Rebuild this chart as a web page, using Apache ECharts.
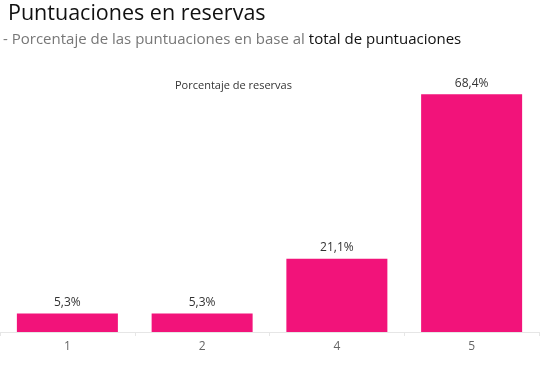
<!DOCTYPE html>
<html><head><meta charset="utf-8">
<script src="https://cdn.jsdelivr.net/npm/echarts@6/dist/echarts.min.js"></script>
<style>html,body{margin:0;padding:0;background:#fff}#c{width:543px;height:365px}</style>
</head><body><div id="c"></div>
<script>
const categories = ['1', '2', '4', '5'];
const values = [5.3, 5.3, 21.1, 68.4];
const titleText = 'Puntuaciones en reservas';
const subtitleText = '- Porcentaje de las puntuaciones en base al ';
const subtitleBold = 'total de puntuaciones';
const measureName = 'Porcentaje de reservas';

const F = '"Open Sans", sans-serif';
const chart = echarts.init(document.getElementById('c'));
chart.setOption({
  animation: false,
  textStyle: { fontFamily: F },
  title: [
    { text: titleText, left: 3, top: -2, textStyle: { fontSize: 21.5, fontWeight: 'normal', color: '#111', fontFamily: F } },
    { text: '{a|' + subtitleText + '}{b|' + subtitleBold + '}', left: -2, top: 27,
      textStyle: { fontWeight: 'normal', rich: {
        a: { fontSize: 15, fontWeight: 'normal', color: '#777', fontFamily: F },
        b: { fontSize: 15, fontWeight: 'normal', color: '#111', fontFamily: F }
      } } },
    { text: measureName, left: 170, top: 75, textStyle: { fontSize: 11, fontWeight: 'normal', color: '#333', fontFamily: F } }
  ],
  grid: { left: -1, width: 540, top: 54, bottom: 33, containLabel: false },
  xAxis: {
    type: 'category', data: categories,
    axisLine: { lineStyle: { color: '#e6e6e6' } },
    axisTick: { show: true, alignWithLabel: false, length: 4, lineStyle: { color: '#e6e6e6' } },
    axisLabel: { color: '#666', fontSize: 12, margin: 9 }
  },
  yAxis: { type: 'value', min: 0, max: 80, show: false, splitLine: { show: false } },
  series: [{
    type: 'bar', data: values, barWidth: 101,
    itemStyle: { color: '#f2137a' },
    label: { show: true, position: 'top', distance: 5, color: '#333', fontSize: 12,
      formatter: p => p.value.toFixed(1).replace('.', ',') + '%' }
  }]
});
</script></body></html>
